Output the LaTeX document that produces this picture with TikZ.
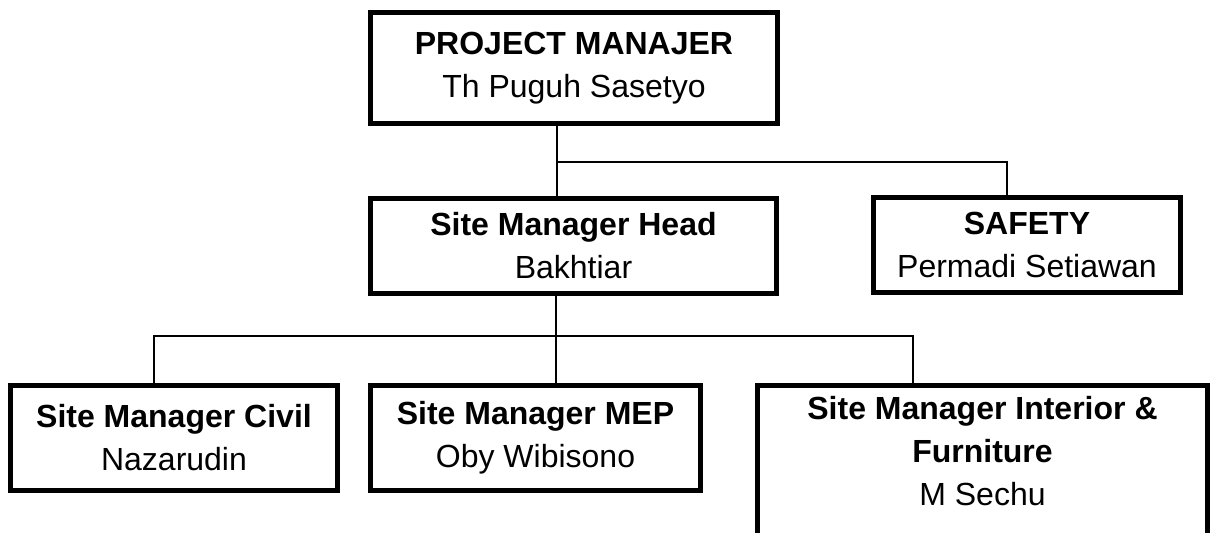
\documentclass[tikz,border=0pt]{standalone}
\usepackage{fontspec}
\setmainfont{Liberation Sans}
\usetikzlibrary{positioning,calc}

\begin{document}
\begin{tikzpicture}[
    x=1pt,y=-1pt,
    teks/.style    = {align=center,inner sep=0pt,font=\fontsize{32}{43}\selectfont},
    jabatan/.style = {teks,rectangle,draw=black,line width=5pt,fill=white},
    garis/.style   = {black,line width=2pt},
  ]
  \useasboundingbox (0,0) rectangle (1216,533);
  \clip (0,0) rectangle (1216,533);

  \node[jabatan,minimum width=407pt,minimum height=111pt] (pm) at (574,68)
       {\textbf{PROJECT MANAJER}\\Th Puguh Sasetyo};

  \node[jabatan,minimum width=406pt,minimum height=95pt] (smh) at (573.5,246)
       {\textbf{Site Manager Head}\\Bakhtiar};
  \node[jabatan,minimum width=307pt,minimum height=95pt] (safety) at (1027,245)
       {\textbf{SAFETY}\\Permadi Setiawan};

  \node[jabatan,minimum width=327pt,minimum height=105pt] (civil) at (174,438)
       {\textbf{Site Manager Civil}\\Nazarudin};
  \node[jabatan,minimum width=330pt,minimum height=105pt] (mep) at (535.5,438)
       {\textbf{Site Manager MEP}\\Oby Wibisono};
  \node[jabatan,minimum width=450pt,minimum height=220pt,anchor=north] (interior) at (982.5,383) {};
  \node[teks,anchor=north] (interiorteks) at ([yshift=-13.5pt]interior.north)
       {\textbf{Site Manager Interior \&}\\\textbf{Furniture}\\M Sechu};

  % garis komando
  \coordinate (cab1)     at (557,162);
  \coordinate (ksafety)  at (1007,162);
  \coordinate (cab2)     at (556,336);
  \coordinate (kcivil)   at (154,336);
  \coordinate (kint)     at (913,336);

  \draw[garis] (pm.south -| cab1) -- (smh.north -| cab1);
  \draw[garis] (cab1) -| (safety.north -| ksafety);

  \draw[garis] (smh.south -| cab2) -- (mep.north -| cab2);
  \draw[garis] (civil.north -| kcivil) |- (kint) -- (interior.north -| kint);

\end{tikzpicture}
\end{document}
